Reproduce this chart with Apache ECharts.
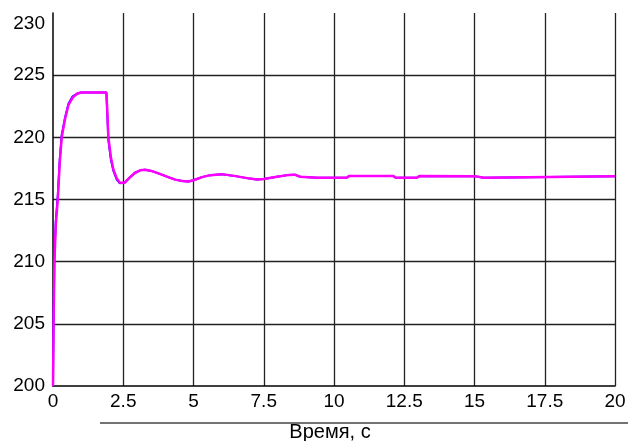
<!DOCTYPE html>
<html>
<head>
<meta charset="utf-8">
<script src="https://cdn.jsdelivr.net/npm/echarts@6/dist/echarts.min.js"></script>
<style>
  html, body { margin: 0; padding: 0; background: #fff; }
  #chart { width: 628px; height: 441px; }
</style>
</head>
<body>
<div id="chart"></div>
<script>
// Transient response: time (s) and the two measured signals
const timeS = [0, 0.02, 0.05, 0.1, 0.17, 0.24, 0.31, 0.43, 0.55, 0.7, 0.85, 1.0, 1.9,
  1.93, 1.97, 2.06, 2.15, 2.27, 2.38, 2.45, 2.55, 2.7, 2.92, 3.1, 3.28, 3.5, 3.87,
  4.1, 4.35, 4.6, 4.82, 5.0, 5.3, 5.6, 6.0, 6.5, 7.0, 7.26, 7.5, 7.97, 8.4, 8.6,
  8.8, 9.4, 10.45, 10.55, 12.1, 12.2, 12.95, 13.05, 15.0, 15.05, 15.33, 15.4, 20];

const signalBlue = [200, 205.4, 210.4, 213.3, 215.3, 218.2, 220.2, 221.6, 222.7, 223.3, 223.5, 223.6, 223.6,
  222.0, 219.8, 218.2, 217.3, 216.6, 216.3, 216.25, 216.35, 216.7, 217.15, 217.35, 217.4, 217.3, 217.0,
  216.8, 216.6, 216.48, 216.45, 216.55, 216.8, 216.96, 217.04, 216.88, 216.68, 216.6, 216.65, 216.83, 216.98, 217.0,
  216.83, 216.75, 216.75, 216.9, 216.9, 216.75, 216.75, 216.9, 216.88, 216.75, 216.75, 216.88, 216.88];

const signalMagenta = [200, 205, 210, 213, 215, 218, 220, 221.5, 222.6, 223.2, 223.5, 223.6, 223.6,
  222.2, 220.0, 218.4, 217.4, 216.7, 216.35, 216.25, 216.35, 216.7, 217.15, 217.35, 217.4, 217.3, 217.0,
  216.8, 216.6, 216.48, 216.45, 216.55, 216.8, 216.96, 217.04, 216.88, 216.68, 216.6, 216.65, 216.83, 216.98, 217.0,
  216.83, 216.75, 216.75, 216.9, 216.9, 216.75, 216.75, 216.9, 216.88, 216.75, 216.75, 216.88, 216.88];

const xLabel = 'Время, с';

const font = '"Liberation Sans", Arial, sans-serif';
const chart = echarts.init(document.getElementById('chart'), null, { renderer: 'canvas' });

chart.setOption({
  animation: false,
  backgroundColor: '#ffffff',
  grid: { left: 53, right: 13, top: 13, bottom: 55, containLabel: false, outerBoundsMode: 'none' },
  xAxis: {
    type: 'value',
    min: 0, max: 20, interval: 2.5,
    axisLine: { show: true, lineStyle: { color: '#000', width: 1.5 } },
    axisTick: { show: false },
    splitLine: { show: true, showMinLine: false, lineStyle: { color: '#222', width: 1.3 } },
    axisLabel: { color: '#000', fontSize: 19, fontFamily: font, margin: 6 },
    name: xLabel,
    nameLocation: 'middle',
    nameGap: 36,
    nameTextStyle: { color: '#000', fontSize: 20, fontFamily: font, padding: [0, 8, 0, 0] }
  },
  yAxis: {
    type: 'value',
    min: 200, max: 230, interval: 5,
    axisLine: { show: true, lineStyle: { color: '#000', width: 1.5 } },
    axisTick: { show: false },
    splitLine: { show: true, showMinLine: false, showMaxLine: false, lineStyle: { color: '#222', width: 1.3 } },
    axisLabel: {
      color: '#000', fontSize: 19, fontFamily: font, margin: 8,
      formatter: v => v === 230 ? '{top|230}' : String(v),
      rich: { top: { fontSize: 19, fontFamily: font, color: '#000', padding: [22, 0, 0, 0] } }
    }
  },
  graphic: [{
    type: 'line',
    shape: { x1: 100, y1: 423, x2: 628, y2: 423 },
    style: { stroke: '#444', lineWidth: 1.5 }
  }],
  series: [
    {
      name: 'blue',
      type: 'line',
      data: timeS.map((t, i) => [t, signalBlue[i]]),
      showSymbol: false,
      lineStyle: { color: '#0000ff', width: 2 },
      z: 2
    },
    {
      name: 'magenta',
      type: 'line',
      data: timeS.map((t, i) => [t, signalMagenta[i]]),
      showSymbol: false,
      lineStyle: { color: '#ff00ff', width: 2.5 },
      z: 3
    }
  ]
});
</script>
</body>
</html>
